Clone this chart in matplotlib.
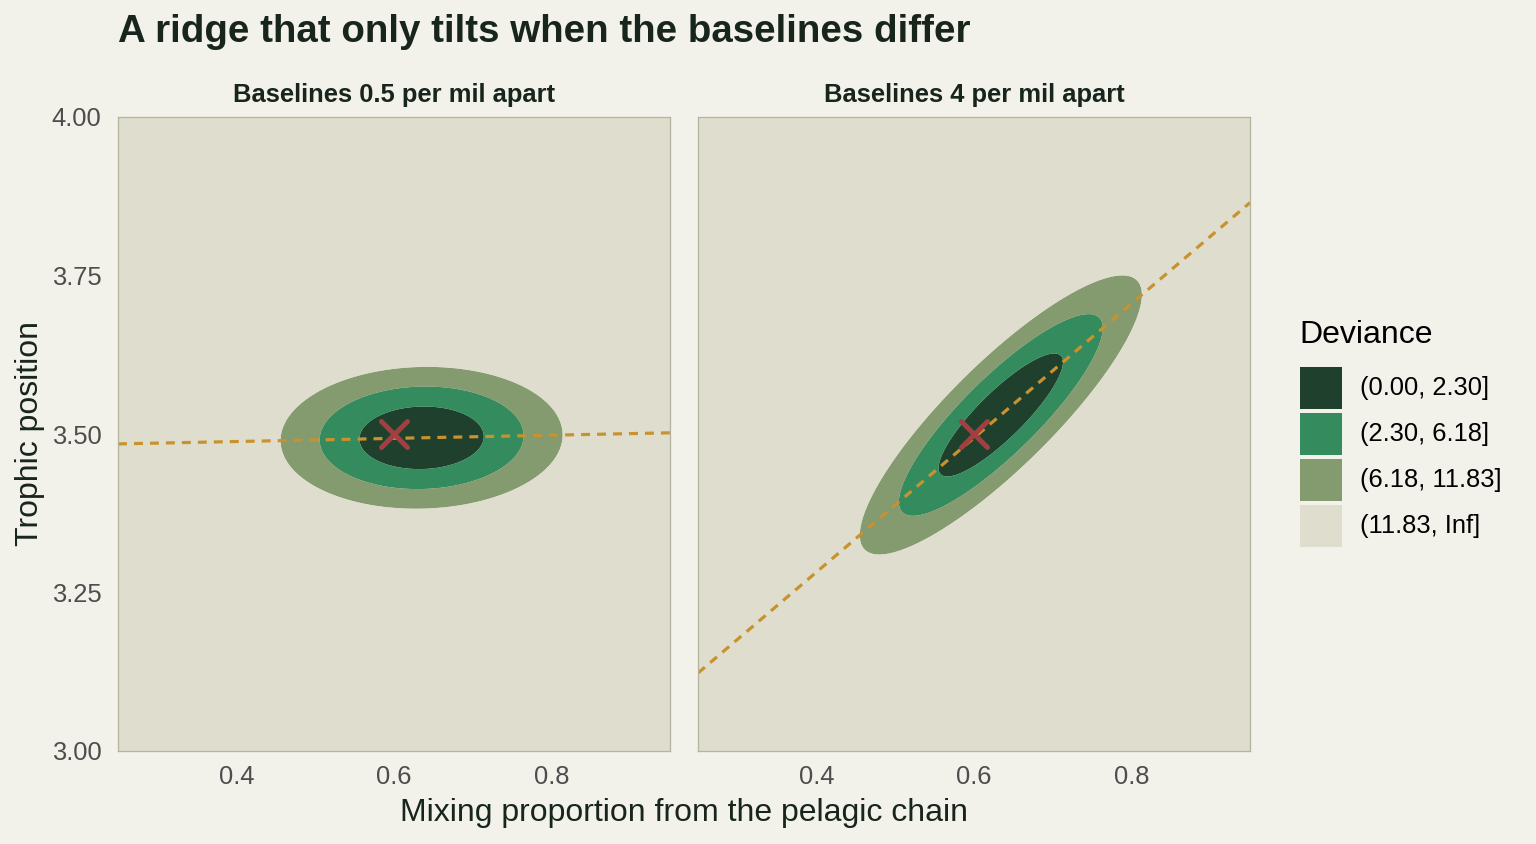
import numpy as np
import matplotlib.pyplot as plt
from matplotlib.patches import Rectangle
from matplotlib.markers import MarkerStyle

plt.rcParams['font.family'] = ['Liberation Sans', 'DejaVu Sans']

# panel data
panel_titles = ["Baselines 0.5 per mil apart", "Baselines 4 per mil apart"]
centre_alpha = [0.635, 0.634]      # minimum of the deviance surface (x)
centre_tp = [3.494, 3.530]         # minimum of the deviance surface (y)
ridge_slope = [0.025, 1.06]        # slope of the dashed ridge line
sd_alpha = 0.052                   # spread along mixing proportion
sd_tp = 0.0325                     # spread along trophic position
true_alpha = [0.6, 0.6]
true_tp = [3.5, 3.5]

dev_breaks = [0.0, 2.30, 6.18, 11.83, 1e9]
dev_labels = ["(0.00, 2.30]", "(2.30, 6.18]", "(6.18, 11.83]", "(11.83, Inf]"]
dev_colors = ["#1E402C", "#338B5E", "#849A6F", "#DFDECE"]

x_ticks = [0.4, 0.6, 0.8]
y_ticks = [3.00, 3.25, 3.50, 3.75, 4.00]

bg = "#F2F1EA"
panel_bg = "#DFDECE"
dark = "#17251C"
grey = "#4D4D4D"

W, H = 1536, 844
fig = plt.figure(figsize=(W / 100, H / 100), dpi=100, facecolor=bg)


def rect(l, t, r, b):
    return [l / W, 1 - b / H, (r - l) / W, (b - t) / H]


gx = np.linspace(0.25, 0.95, 500)
gy = np.linspace(3.0, 4.0, 500)
X, Y = np.meshgrid(gx, gy)

cross = MarkerStyle("x", capstyle="round")

lefts = [118, 698]
for i in range(2):
    ax = fig.add_axes(rect(lefts[i], 117, lefts[i] + 552, 751))
    ax.set_facecolor(panel_bg)
    D = ((X - centre_alpha[i]) / sd_alpha) ** 2 + \
        ((Y - centre_tp[i] - ridge_slope[i] * (X - centre_alpha[i])) / sd_tp) ** 2
    ax.contourf(X, Y, D, levels=dev_breaks, colors=dev_colors, antialiased=True)
    ax.plot(gx, centre_tp[i] + ridge_slope[i] * (gx - centre_alpha[i]),
            color="#C8922E", lw=2.3, dashes=(2.8, 2.2))
    ax.plot(true_alpha[i], true_tp[i], marker=cross, color="#A63D40",
            markersize=19, mew=3.6, linestyle="none")
    ax.set_xlim(0.25, 0.95)
    ax.set_ylim(3.0, 4.0)
    ax.set_xticks(x_ticks)
    ax.set_xticklabels([f"{v:.1f}" for v in x_ticks])
    ax.set_yticks(y_ticks)
    if i == 0:
        ax.set_yticklabels([f"{v:.2f}" for v in y_ticks])
    else:
        ax.set_yticklabels([])
    ax.tick_params(length=0, labelsize=18.4, colors=grey)
    ax.tick_params(axis="x", pad=10)
    ax.tick_params(axis="y", pad=12)
    for s in ax.spines.values():
        s.set_color("#B4B39E")
        s.set_linewidth(0.9)
    ax.set_title(panel_titles[i], fontsize=18.4, fontweight="bold",
                 color=dark, pad=11)

fig.text(118 / W, 1 - 32 / H, "A ridge that only tilts when the baselines differ",
         fontsize=27.7, fontweight="bold", color=dark, ha="left", va="center")
fig.text(684 / W, 1 - 813 / H, "Mixing proportion from the pelagic chain",
         fontsize=23, color=dark, ha="center", va="center")
fig.text(30 / W, 1 - 434 / H, "Trophic position", fontsize=23, color=dark,
         ha="center", va="center", rotation=90)

# legend
fig.text(1299 / W, 1 - 335 / H, "Deviance", fontsize=23, color="black",
         ha="left", va="center")
key_tops = [367, 413, 459, 505]
for top, col, lab in zip(key_tops, dev_colors, dev_labels):
    fig.patches.append(Rectangle((1300 / W, 1 - (top + 42) / H), 42 / W, 42 / H,
                                 transform=fig.transFigure, facecolor=col,
                                 edgecolor="none"))
    fig.text(1360 / W, 1 - (top + 21) / H, lab, fontsize=18.4, color="black",
             ha="left", va="center")

fig.savefig("out.png", dpi=100, facecolor=bg)
